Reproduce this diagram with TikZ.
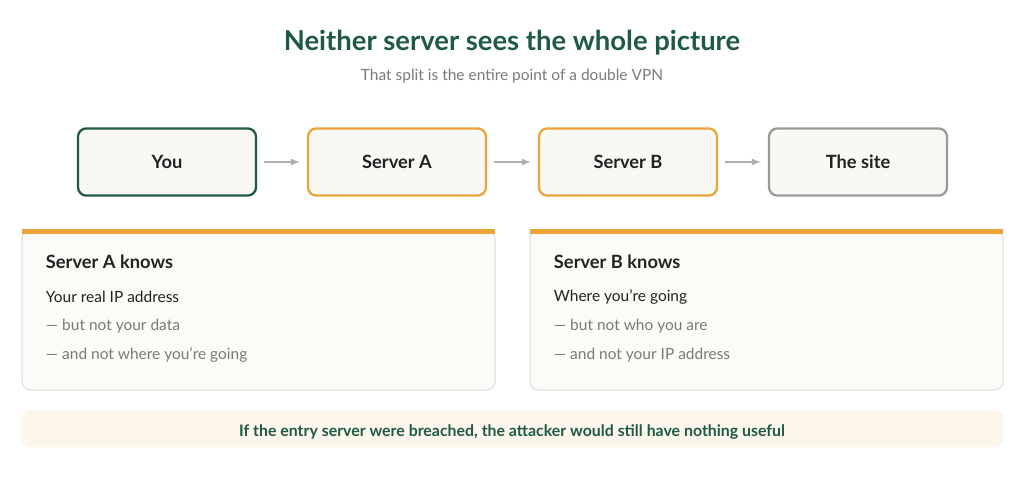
\documentclass[tikz,border=0pt]{standalone}
\usepackage{fontspec}
\setmainfont{Lato}
\definecolor{deepgreen}{HTML}{1E5A44}
\definecolor{amber}{HTML}{E9A53A}
\definecolor{stone}{HTML}{9A9A9A}
\definecolor{paper}{HTML}{F9F8F4}
\definecolor{muted}{HTML}{7A7A7A}
\definecolor{ink}{HTML}{222222}
\definecolor{cream}{HTML}{FDF6EA}
\tikzset{
    hop/.style={draw, rounded corners=6pt, line width=1.6pt, fill=paper,
        minimum width=4.45cm, minimum height=1.68cm, font=\fontsize{13}{15}\selectfont\bfseries, text=ink},
    link/.style={->, >=latex, draw=stone!80, line width=1.2pt},
    panel/.style={draw=black!12, rounded corners=6pt, fill=paper!60, line width=.8pt},
    line/.style={anchor=west, font=\fontsize{11}{13}\selectfont},
}
\begin{document}
\begin{tikzpicture}[x=0.025cm, y=-0.025cm]
    \useasboundingbox (0,0) rectangle (1024,478);
    \fill[white] (0,0) rectangle (1024,478);
    % titles
    \node[font=\fontsize{19.5}{22}\selectfont\bfseries, text=deepgreen] (title) at (512,43) {Neither server sees the whole picture};
    \node[font=\fontsize{11}{13}\selectfont, text=muted] (subtitle) at (512,76) {That split is the entire point of a double VPN};
    % chain
    \node[hop, draw=deepgreen] (you) at (167,162) {You};
    \node[hop, draw=amber] (srva) at (397,162) {Server A};
    \node[hop, draw=amber] (srvb) at (628,162) {Server B};
    \node[hop, draw=stone] (site) at (858,162) {The site};
    \draw[link] ([xshift=7*0.025cm]you.east) -- ([xshift=-7*0.025cm]srva.west);
    \draw[link] ([xshift=7*0.025cm]srva.east) -- ([xshift=-7*0.025cm]srvb.west);
    \draw[link] ([xshift=7*0.025cm]srvb.east) -- ([xshift=-7*0.025cm]site.west);
    % panels
    \foreach \px/\who/\la/\lb/\lc in {22/A/Your real IP address/but not your data/and not where you're going,
                                      530/B/Where you're going/but not who you are/and not your IP address} {
        \draw[panel] (\px,230) rectangle (\px+473,390);
        \fill[amber] (\px,229) rectangle (\px+473,234);
        \node[line, font=\fontsize{13}{15}\selectfont\bfseries, text=ink] at (\px+19,262) {Server \who\ knows};
        \node[line, text=ink] at (\px+19,297) {\la};
        \node[line, text=muted] at (\px+19,326) {— \lb};
        \node[line, text=muted] at (\px+19,355) {— \lc};
    }
    % banner
    \fill[cream, rounded corners=6pt] (22,410) rectangle (1003,447);
    \node[font=\fontsize{11.3}{13}\selectfont\bfseries, text=deepgreen] (note) at (512,432) {If the entry server were breached, the attacker would still have nothing useful};
\end{tikzpicture}
\end{document}
